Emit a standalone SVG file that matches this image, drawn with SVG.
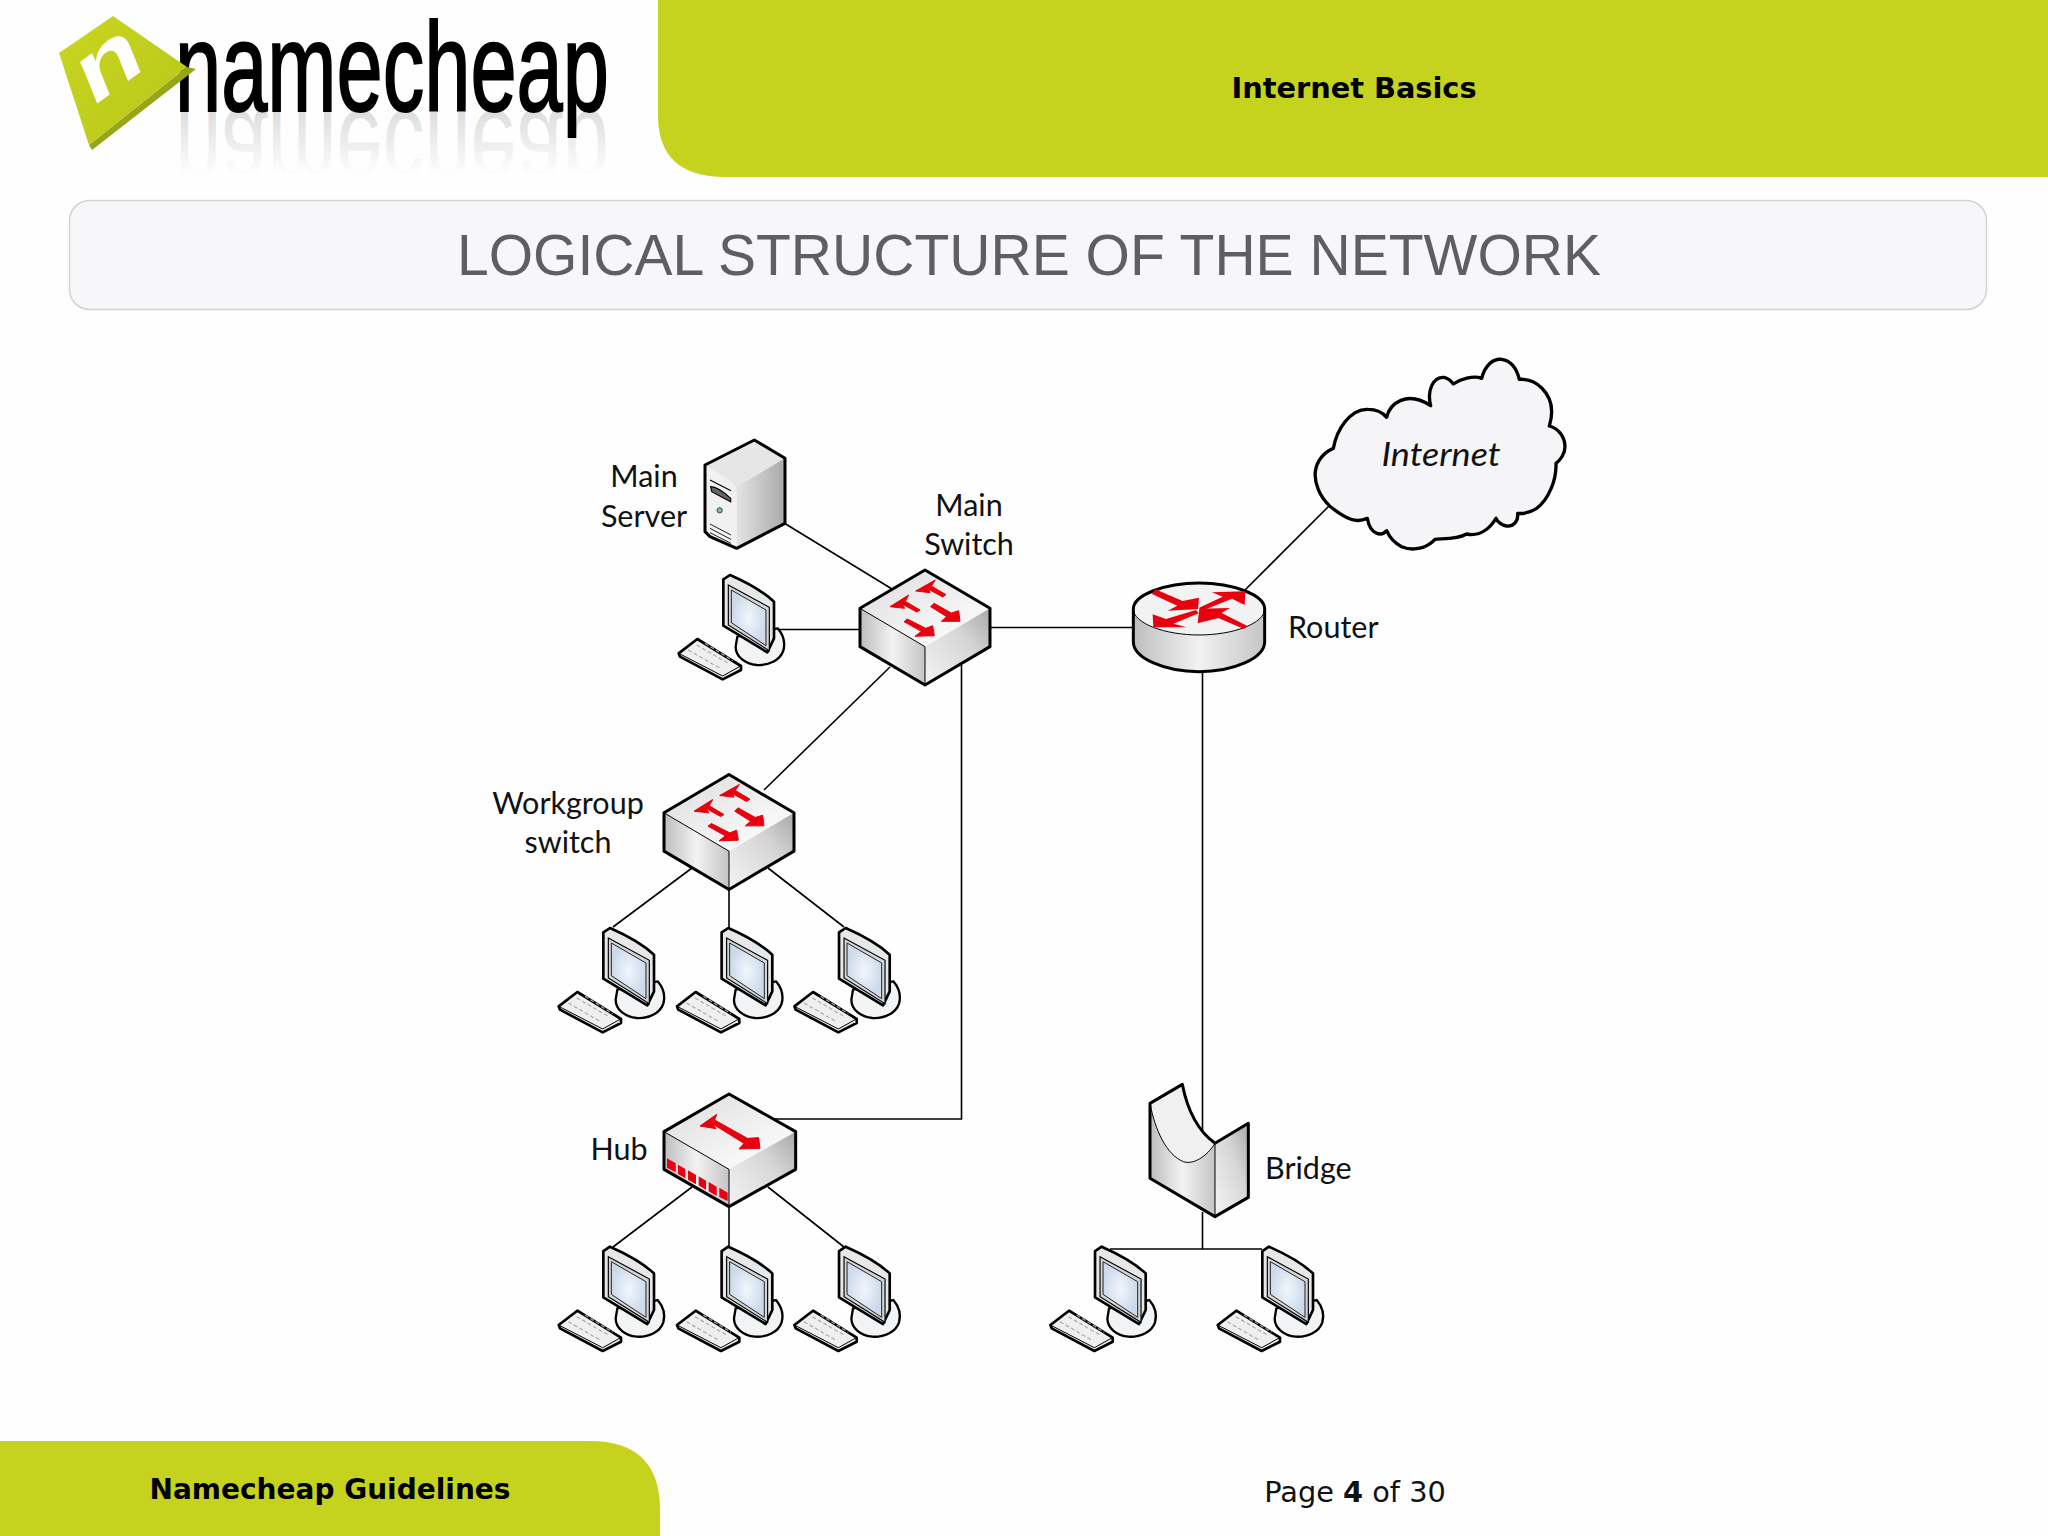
<svg xmlns="http://www.w3.org/2000/svg" width="2048" height="1536" viewBox="0 0 2048 1536">
<style>
.lbl{font-family:"Lato","Open Sans",sans-serif;font-size:30.500px;fill:#111;text-anchor:middle}
.bar{font-family:"DejaVu Sans",sans-serif;font-weight:700;fill:#000}
.c{fill:none;stroke:#000;stroke-width:1.6}
.o{fill:none;stroke:#000;stroke-width:9;stroke-linejoin:round}
.m{stroke:#000;stroke-width:8;stroke-linejoin:round}
.t{fill:none;stroke:#000;stroke-width:3}
.r{fill:#e8000f;stroke:#e8000f;stroke-width:3;stroke-linejoin:round}
.p{fill:#e8000f}
.lime{fill:#c6d31e}
</style>
<defs>
<linearGradient id="gFront" x1="0" x2="1" y1="0" y2="0"><stop offset="0" stop-color="#bdbdbd"/><stop offset=".5" stop-color="#f2f2f2"/><stop offset="1" stop-color="#c4c4c4"/></linearGradient>
<linearGradient id="gRight" x1="0" x2="1" y1="1" y2="0"><stop offset="0" stop-color="#f4f4f4"/><stop offset=".6" stop-color="#d6d6d6"/><stop offset="1" stop-color="#a8a8a8"/></linearGradient>
<linearGradient id="gTop" x1="0" x2="1" y1="0" y2="1"><stop offset="0" stop-color="#dcdcdc"/><stop offset=".7" stop-color="#f6f6f6"/><stop offset="1" stop-color="#fcfcfc"/></linearGradient>
<linearGradient id="gServer" x1="0" x2="1" y1="0" y2="0"><stop offset="0" stop-color="#f0f0f0"/><stop offset=".35" stop-color="#e8e8e8"/><stop offset="1" stop-color="#a9a9a9"/></linearGradient>
<linearGradient id="gDiamond" x1="0" x2="1" y1="0" y2="1"><stop offset="0" stop-color="#c9d620"/><stop offset="1" stop-color="#b7c61a"/></linearGradient>
<radialGradient id="gScreen"><stop offset="0" stop-color="#f2f6fb"/><stop offset="1" stop-color="#ccd9ea"/></radialGradient>
<linearGradient id="gRefl" gradientUnits="userSpaceOnUse" x1="0" x2="0" y1="111" y2="46"><stop offset="0" stop-color="#000" stop-opacity=".13"/><stop offset="1" stop-color="#000" stop-opacity="0"/></linearGradient>
<g id="ws">
<path class="m" style="stroke-width:7" fill="#f2f3f4" d="M353,625 C370,645 376,670 370,692 C360,722 325,737 290,735 C255,732 227,710 227,680 L232,650Z"/>
<path class="m" fill="#e6e7e8" d="M190,478 L210,465 C260,487 310,515 342,545 L342,655 L322,697 L190,617Z"/>
<path d="M205,495 L328,562 L328,692 L205,615Z" fill="#d4d5d7" stroke="#000" stroke-width="3.500"/>
<path d="M214,510 L318,570 L318,677 L214,608Z" fill="url(#gScreen)" stroke="#222" stroke-width="3"/>
<path class="m" fill="#efefef" d="M56,700 L112,657 L243,738 L243,750 L188,778 L60,710Z"/>
<path d="M60,702 L188,768 L242,738" fill="none" stroke="#000" stroke-width="3"/>
<path d="M85,690 L180,745 M110,675 L205,730 M135,670 L218,722" fill="none" stroke="#aaa" stroke-width="3.500" stroke-dasharray="12 7"/>
</g>
<g id="switch">
<path fill="url(#gTop)" d="M795,450 L990,565 L795,680 L600,565Z"/>
<path fill="url(#gFront)" d="M600,565 L795,680 L795,795 L600,680Z"/>
<path fill="url(#gRight)" d="M795,680 L990,565 L990,680 L795,795Z"/>
<path class="t" d="M600,565 L795,680 V795"/>
<path class="o" d="M795,450 L990,565 V680 L795,795 L600,680 V565Z"/>
<g transform="translate(570,420)">
<polygon class="r" points="197,93 256,60 244,78 288,104 278,111 236,88 240,98"/>
<polygon class="r" points="120,140 176,105 166,124 210,150 200,156 158,133 164,145"/>
<polygon class="r" points="330,184 274,184 290,170 242,140 252,130 304,159 326,152"/>
<polygon class="r" points="253,227 195,229 214,214 162,185 172,177 227,205 248,197"/>
</g>
</g>
</defs>

<rect width="2048" height="1536" fill="#fefefe"/>

<g id="header">
<path class="lime" d="M658,0 H2048 V177 H725 Q658,177 658,115Z"/>
<text class="bar" x="1354" y="98" text-anchor="middle" font-size="28.800">Internet Basics</text>
</g>

<g id="logo">
<defs><text id="wm" x="175" y="111" font-family="Liberation Sans, sans-serif" font-size="126" textLength="434" lengthAdjust="spacingAndGlyphs" stroke-width="2">namecheap</text></defs>
<use href="#wm" transform="translate(0,222) scale(1,-1)" fill="url(#gRefl)"/>
<use href="#wm" fill="#000" stroke="#000"/>
<polygon points="92,150 89,145 187,67 196,69" fill="#98a516"/>
<polygon points="113,16 187,67 89,145 59,53" fill="url(#gDiamond)"/>
<text x="0" y="0" font-family="Liberation Sans, sans-serif" font-weight="700" font-size="100" fill="#fff" transform="matrix(.9 -.656 .32 .79 91 108)">n</text>
</g>

<g id="title">
<rect x="69.500" y="200.500" width="1917" height="109" rx="20" fill="#f7f7f9" stroke="#d2d2d4" stroke-width="1.500"/>
<text x="1029" y="275" font-family="Liberation Sans, sans-serif" font-size="58" fill="#5f5f61" text-anchor="middle" textLength="1144" lengthAdjust="spacingAndGlyphs">LOGICAL STRUCTURE OF THE NETWORK</text>
</g>

<g id="connectors">
<path class="c" d="M784,523 L892,589"/>
<path class="c" d="M776,629.500 H860"/>
<path class="c" d="M990,627.500 H1134"/>
<path class="c" d="M961.500,665 V1119 H775"/>
<path class="c" d="M890,667 L764,790"/>
<path class="c" d="M692,868 L613,927 M729,887 V927 M768,868 L844,927"/>
<path class="c" d="M692,1187 L613,1247 M729,1206 V1247 M768,1187 L844,1247"/>
<path class="c" d="M1245,590 L1329,506"/>
<path class="c" d="M1202.500,672 V1145"/>
<path class="c" d="M1202.500,1212 V1249 M1110,1249 H1262"/>
</g>

<g id="main-server">
<g transform="translate(660,420) scale(.33333)">
<path fill="url(#gServer)" d="M135,135 L283,60 L375,115 V310 L230,385 L135,340Z"/>
<path fill="#e6e6e6" d="M135,135 L283,60 L375,115 L240,195 Q225,205 205,190Z"/>
<path fill="#f1f1f1" d="M135,135 L205,178 Q228,195 230,215 V385 L135,340Z"/>
<path class="o" d="M135,135 L283,60 L375,115 V310 L230,385 L150,350 L135,335Z"/>
<path d="M150,180 L213,212 M152,200 C170,200 190,215 212,235 L212,245 L155,215Z" fill="#666" stroke="#000" stroke-width="3.500"/>
<circle cx="179" cy="271" r="8" fill="#7fb8a6" stroke="#333" stroke-width="2.500"/>
<path d="M150,312 L213,345 M150,325 L213,358 M150,338 L213,370" fill="none" stroke="#222" stroke-width="3"/>
</g>
<text class="lbl" x="644" y="487">Main</text>
<text class="lbl" x="644" y="527">Server</text>
</g>

<g id="main-switch">
<use href="#switch" transform="translate(660,420) scale(.33333)"/>
<text class="lbl" x="969" y="516">Main</text>
<text class="lbl" x="969" y="555">Switch</text>
</g>

<g id="workgroup-switch">
<use href="#switch" transform="translate(464,624.500) scale(.33333)"/>
<text class="lbl" x="568" y="814">Workgroup</text>
<text class="lbl" x="568" y="853">switch</text>
</g>

<g id="hub">
<g transform="translate(540,1070) scale(.33333)">
<path fill="url(#gTop)" d="M567,72 L767,185 L567,298 L372,185Z"/>
<path fill="url(#gFront)" d="M372,185 L567,298 L567,410 L372,298Z"/>
<path fill="url(#gRight)" d="M567,298 L767,185 L767,298 L567,410Z"/>
<path class="t" d="M372,185 L567,298 V410"/>
<path class="o" d="M567,72 L767,185 V298 L567,410 L372,298 V185Z"/>
<polygon class="r" points="480,168 530,133 524,150 622,205 656,203 660,235 597,237 612,220 518,162 528,176"/>
<g class="p">
<polygon points="381,265 407,280 407,307 381,293"/>
<polygon points="414,284 436,297 436,325 414,312"/>
<polygon points="444,301 468,315 468,343 444,329"/>
<polygon points="476,319 498,332 498,360 476,346"/>
<polygon points="506,336 530,350 530,378 506,364"/>
<polygon points="538,353 563,368 563,393 538,381"/>
</g>
</g>
<text class="lbl" x="619" y="1160">Hub</text>
</g>

<g id="router">
<g transform="translate(1090,340) scale(.33333)">
<path fill="url(#gFront)" d="M130,805 V905 C130,955 225,995 327,995 C430,995 524,955 524,905 V805Z"/>
<ellipse cx="327" cy="807" rx="197" ry="78" fill="#f2f2f2"/>
<path class="t" d="M130,807 C130,850 225,885 327,885 C430,885 524,850 524,807"/>
<path class="o" d="M130,905 V807 C130,765 225,729 327,729 C430,729 524,765 524,807 V905 C524,955 430,995 327,995 C225,995 130,955 130,905Z"/>
<polygon class="p" points="186,762 196,748 278,783 327,773 324,807 233,812 262,797"/>
<polygon class="p" points="326,804 398,770 366,757 466,754 464,795 426,776 336,812"/>
<polygon class="p" points="472,858 462,867 385,834 323,850 328,806 420,804 395,819"/>
<polygon class="p" points="318,810 326,820 250,851 290,862 190,862 188,823 228,837"/>
</g>
<text class="lbl" x="1288" y="638" style="text-anchor:start">Router</text>
</g>

<g id="internet">
<path transform="translate(1090,340) scale(.33333)" class="m" style="stroke-width:10" fill="#f5f5f7" d="M718,497 C690,470 672,430 676,395 C680,360 705,335 730,325 C740,270 780,205 835,208 C860,208 880,220 890,232 C900,190 950,150 1022,197 C1010,150 1030,110 1062,112 C1075,115 1085,125 1090,132 C1110,118 1150,105 1175,115 C1185,75 1210,55 1235,58 C1265,62 1280,85 1288,118 C1340,115 1385,160 1385,215 C1385,235 1380,250 1378,258 C1405,265 1425,290 1425,320 C1425,340 1412,360 1398,370 C1400,420 1375,480 1340,505 C1320,518 1300,522 1283,520 C1285,545 1270,560 1250,558 C1235,556 1222,545 1218,535 C1200,565 1170,590 1130,582 C1100,600 1050,595 1035,598 C1010,625 970,635 935,620 C915,610 900,595 890,572 C875,590 840,585 832,535 C800,550 770,540 718,497Z"/>
<text class="lbl" x="1441" y="466" font-style="italic" style="font-size:33px" textLength="119" lengthAdjust="spacingAndGlyphs">Internet</text>
</g>

<g id="bridge">
<g transform="translate(1030,1060) scale(.33333)">
<path fill="#f0f0f0" d="M360,130 L457,73 C470,140 500,210 555,250 C530,290 490,315 460,305 C410,285 375,210 360,130Z"/>
<path fill="url(#gFront)" d="M360,130 C375,210 410,285 460,305 C490,315 530,290 555,250 L555,470 L360,355Z"/>
<path fill="url(#gRight)" d="M555,250 L655,190 L655,412 L555,470Z"/>
<path class="t" d="M360,130 C375,210 410,285 460,305 C490,315 530,290 555,250 V470"/>
<path class="o" d="M360,130 L457,73 C470,140 500,210 555,250 L655,190 V412 L555,470 L360,355Z"/>
</g>
<text class="lbl" x="1265" y="1179" style="text-anchor:start">Bridge</text>
</g>

<g id="ws-main"><use href="#ws" transform="translate(660,420) scale(.33333)"/></g>
<g id="ws-group-1"><use href="#ws" transform="translate(540,773) scale(.33333)"/></g>
<g id="ws-group-2"><use href="#ws" transform="translate(658.300,773) scale(.33333)"/></g>
<g id="ws-group-3"><use href="#ws" transform="translate(775.700,773) scale(.33333)"/></g>
<g id="ws-hub-1"><use href="#ws" transform="translate(540,1091.700) scale(.33333)"/></g>
<g id="ws-hub-2"><use href="#ws" transform="translate(658.300,1091.700) scale(.33333)"/></g>
<g id="ws-hub-3"><use href="#ws" transform="translate(775.700,1091.700) scale(.33333)"/></g>
<g id="ws-bridge-1"><use href="#ws" transform="translate(1031.700,1091.700) scale(.33333)"/></g>
<g id="ws-bridge-2"><use href="#ws" transform="translate(1199,1091.700) scale(.33333)"/></g>

<g id="footer">
<path class="lime" d="M0,1441 H590 Q660,1441 660,1510 V1536 H0Z"/>
<text class="bar" x="330" y="1499" text-anchor="middle" font-size="28">Namecheap Guidelines</text>
<text x="1355" y="1502" font-family="DejaVu Sans, sans-serif" font-size="28.800" fill="#111" text-anchor="middle">Page <tspan font-weight="700">4</tspan> of 30</text>
</g>
</svg>
